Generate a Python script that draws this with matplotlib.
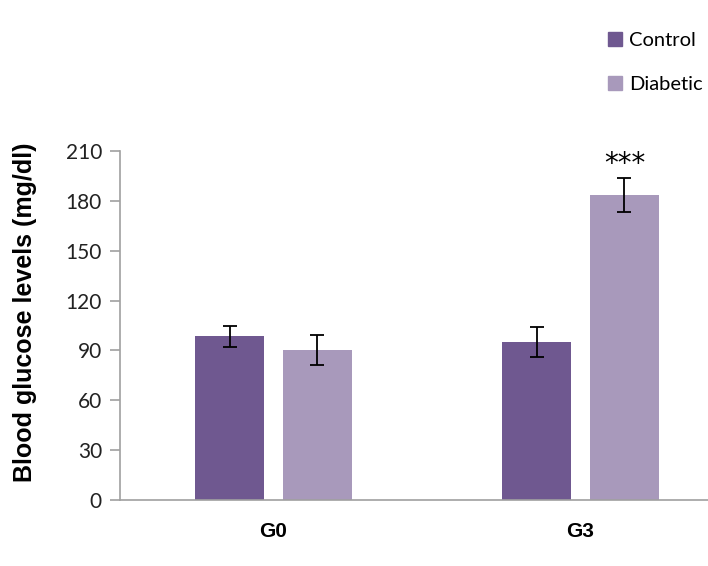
import matplotlib.pyplot as plt
import numpy as np
from matplotlib.patches import Patch

groups = ['G0', 'G3']
control = [98.5, 95.3]
control_err = [6.5, 9.0]
diabetic = [90.0, 183.5]
diabetic_err = [9.0, 10.0]
y_ticks = [0, 30, 60, 90, 120, 150, 180, 210]

c_control = '#6f5890'
c_diabetic = '#a899bb'

fig = plt.figure(figsize=(7.08, 5.66), dpi=100)
ax = fig.add_axes([120 / 708, 66 / 566, 614 / 708, 349 / 566])

x = np.arange(len(groups))
w = 0.225
off = 0.143
ax.bar(x - off, control, w, color=c_control)
ax.bar(x + off, diabetic, w, color=c_diabetic)
ax.errorbar(x - off, control, yerr=control_err, fmt='none', ecolor='black',
            elinewidth=1.3, capsize=5, capthick=1.3)
ax.errorbar(x + off, diabetic, yerr=diabetic_err, fmt='none', ecolor='black',
            elinewidth=1.3, capsize=5, capthick=1.3)

# significance mark over the diabetic G3 bar
ax.text(x[1] + off, diabetic[1] + diabetic_err[1] + 0.5, '***', ha='center',
        va='bottom', fontsize=20, family='DejaVu Sans')

ax.set_xlim(-0.5, 1.5)
ax.set_ylim(0, 210)
ax.set_yticks(y_ticks)
ax.set_yticklabels([str(t) for t in y_ticks], fontsize=15, family='Lato', color='#222222')
ax.set_xticks(x)
ax.set_xticklabels(groups, fontsize=15, fontweight='bold', family='Liberation Sans')
ax.tick_params(axis='x', length=0, pad=16)
ax.tick_params(axis='y', length=7, color='#a0a0a0', width=1.2, pad=6)
ax.set_ylabel('Blood glucose levels (mg/dl)', fontsize=18, fontweight='bold',
              family='Liberation Sans')
ax.yaxis.set_label_coords(-0.135, 0.539)

for s in ['top', 'right']:
    ax.spines[s].set_visible(False)
for s in ['left', 'bottom']:
    ax.spines[s].set_color('#a0a0a0')
    ax.spines[s].set_linewidth(1.2)

handles = [Patch(color=c_control, label='Control'),
           Patch(color=c_diabetic, label='Diabetic')]
fig.legend(handles=handles, loc='upper left', bbox_to_anchor=(594 / 708, 1 - 18 / 566),
           frameon=False, handlelength=0.7, handleheight=0.7, handletextpad=0.35,
           labelspacing=1.35, borderpad=0.2, prop={'family': 'Lato', 'size': 14.5})

fig.savefig('out.png', dpi=100)
